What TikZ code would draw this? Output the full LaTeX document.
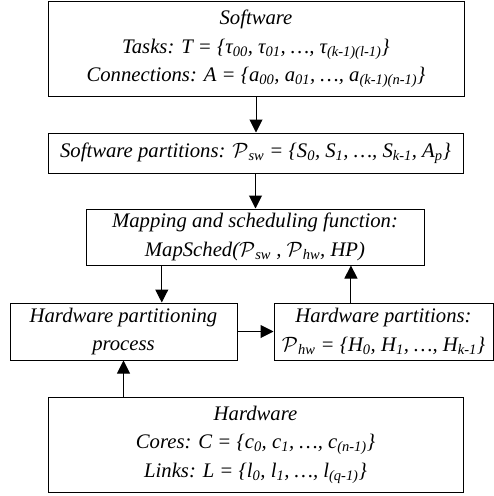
\documentclass[tikz,border=0pt]{standalone}
\usepackage{fontspec}
\setmainfont{Liberation Serif}
\usetikzlibrary{arrows.meta,calc}

% subscript helper in italic text
\newcommand{\sbx}[1]{\textsubscript{#1}}
\newcommand{\Pc}{$\mathcal{P}$}

\tikzset{
  box/.style={draw, line width=1pt, inner sep=0pt, align=center,
    font=\fontsize{20.7pt}{28.5pt}\selectfont\itshape},
  flow/.style={line width=1pt, -{Triangle[length=13pt,width=13pt]}}
}

\begin{document}
\begin{tikzpicture}[x=1pt,y=1pt]
\useasboundingbox (0,0) rectangle (494,-496);

\node[box, minimum width=416pt, minimum height=95pt] (sw) at (256,-49)
  {Software\\
   Tasks: T = \{τ\sbx{00}, τ\sbx{01}, …, τ\sbx{(k-1)(l-1)}\}\\
   Connections: A = \{a\sbx{00}, a\sbx{01}, …, a\sbx{(k-1)(n-1)}\}};

\node[box, minimum width=415pt, minimum height=40pt] (swp) at (255.5,-153)
  {Software partitions: \Pc\sbx{sw} = \{S\sbx{0}, S\sbx{1}, …, S\sbx{k-1}, A\sbx{p}\}};

\node[box, minimum width=338pt, minimum height=56pt] (map) at (255,-237)
  {Mapping and scheduling function:\\
   MapSched(\Pc\sbx{sw} , \Pc\sbx{hw}, HP)};

\node[box, minimum width=227pt, minimum height=57pt] (hwpp) at (123.5,-331.5)
  {Hardware partitioning\\ process};

\node[box, minimum width=219pt, minimum height=57pt] (hwp) at (383.5,-331.5)
  {Hardware partitions:\\
   \Pc\sbx{hw} = \{H\sbx{0}, H\sbx{1}, …, H\sbx{k-1}\}};

\node[box, minimum width=415pt, minimum height=95pt] (hw) at (255.5,-444.5)
  {Hardware\\
   Cores: C = \{c\sbx{0}, c\sbx{1}, …, c\sbx{(n-1)}\}\\
   Links: L = \{l\sbx{0}, l\sbx{1}, …, l\sbx{(q-1)}\}};

% connectors
\draw[flow] (sw.south) -- (sw.south |- swp.north);
\draw[flow] (swp.south) -- (swp.south |- map.north);
\coordinate (mapout) at ($(map.south west)!0.225!(map.south east)$);
\draw[flow] (mapout) -- (mapout |- hwpp.north);
\coordinate (hwpout) at ($(hwp.north west)!0.352!(hwp.north east)$);
\draw[flow] (hwpout) -- (hwpout |- map.south);
\draw[flow] (hwpp.east) -- (hwp.west);
\draw[flow] (hw.north -| hwpp.south) -- (hwpp.south);
\end{tikzpicture}
\end{document}
